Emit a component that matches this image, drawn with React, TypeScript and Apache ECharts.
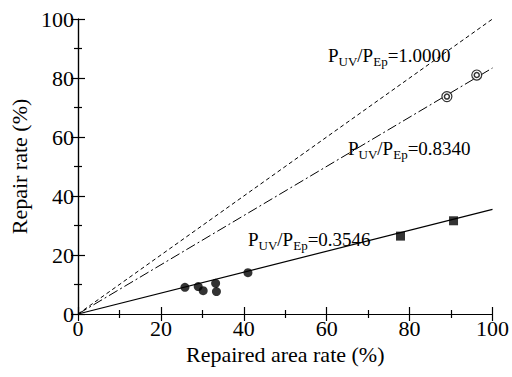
import React, { useEffect, useRef } from "react";
import * as echarts from "echarts";

const circlePoints: [number, number][] = [
  [25.8, 9.05],
  [29.0, 9.3],
  [30.2, 7.9],
  [33.2, 10.4],
  [33.4, 7.6],
  [41.0, 14.0],
];
const squarePoints: [number, number][] = [
  [77.8, 26.4],
  [90.6, 31.6],
];
const targetPoints: [number, number][] = [
  [89.0, 73.7],
  [96.2, 81.0],
];
const lineEq1: [number, number][] = [
  [0, 0],
  [100, 100],
];
const lineEq2: [number, number][] = [
  [0, 0],
  [100, 83.4],
];
const lineEq3: [number, number][] = [
  [0, 0],
  [100, 35.46],
];
const ratioLabels = ["1.0000", "0.8340", "0.3546"];
const xTitle = "Repaired area rate (%)";
const yTitle = "Repair rate (%)";

const FONT = "Times New Roman";

function frameAxis(position: string) {
  return {
    type: "value",
    min: 0,
    max: 100,
    interval: 20,
    position,
    axisLine: { show: true, lineStyle: { color: "#000", width: 1.2 } },
    axisTick: { show: true, inside: true, length: 7, lineStyle: { color: "#000", width: 1.2 } },
    minorTick: { show: true, splitNumber: 2, length: 4, lineStyle: { color: "#000", width: 1.2 } },
    splitLine: { show: false },
    axisLabel: { show: false },
  };
}

export default function App() {
  const ref = useRef<HTMLDivElement>(null);
  useEffect(() => {
    if (!ref.current) return;
    const chart = echarts.init(ref.current, null, { renderer: "svg" });
    const mkLabel = (val: string, x: number, y: number) => ({
      type: "text",
      left: x,
      top: y,
      style: {
        text: `{m|P}{s|UV}{m|/P}{s|Ep}{m|=${val}}`,
        rich: {
          m: { fontFamily: FONT, fontSize: 19, fill: "#000", verticalAlign: "bottom" },
          s: { fontFamily: FONT, fontSize: 13, fill: "#000", verticalAlign: "bottom", padding: [0, 0, -3, 0] },
        },
      },
    });
    chart.setOption({
      animation: false,
      textStyle: { fontFamily: FONT },
      grid: { left: 78, right: 19, top: 19, bottom: 63 },
      xAxis: [
        {
          type: "value",
          min: 0,
          max: 100,
          interval: 20,
          position: "bottom",
          name: xTitle,
          nameLocation: "middle",
          nameGap: 27,
          nameTextStyle: { fontFamily: FONT, fontSize: 22, color: "#000" },
          axisLine: { show: true, lineStyle: { color: "#000", width: 1.2 } },
          axisTick: { show: true, inside: true, length: 7, lineStyle: { color: "#000", width: 1.2 } },
          minorTick: { show: true, splitNumber: 2, length: 4, lineStyle: { color: "#000", width: 1.2 } },
          splitLine: { show: false },
          axisLabel: { fontFamily: FONT, fontSize: 22, color: "#000", margin: 3 },
        },
        frameAxis("top"),
      ],
      yAxis: [
        {
          type: "value",
          min: 0,
          max: 100,
          interval: 20,
          position: "left",
          name: yTitle,
          nameLocation: "middle",
          nameGap: 46,
          nameTextStyle: { fontFamily: FONT, fontSize: 22, color: "#000" },
          axisLine: { show: true, lineStyle: { color: "#000", width: 1.2 } },
          axisTick: { show: true, inside: true, length: 7, lineStyle: { color: "#000", width: 1.2 } },
          minorTick: { show: true, splitNumber: 2, length: 4, lineStyle: { color: "#000", width: 1.2 } },
          splitLine: { show: false },
          axisLabel: { fontFamily: FONT, fontSize: 22, color: "#000", margin: 4 },
        },
        frameAxis("right"),
      ],
      series: [
        {
          type: "line",
          data: lineEq1,
          symbol: "none",
          lineStyle: { color: "#000", width: 1, type: [4, 3] },
        },
        {
          type: "line",
          data: lineEq2,
          symbol: "none",
          lineStyle: { color: "#000", width: 1, type: [10, 3, 2, 3] },
        },
        {
          type: "line",
          data: lineEq3,
          symbol: "none",
          lineStyle: { color: "#000", width: 1.2, type: "solid" },
        },
        {
          type: "scatter",
          data: circlePoints,
          symbol: "circle",
          symbolSize: 9,
          itemStyle: { color: "#000" },
        },
        {
          type: "scatter",
          data: squarePoints,
          symbol: "rect",
          symbolSize: 9,
          itemStyle: { color: "#000" },
        },
        {
          type: "scatter",
          data: targetPoints,
          symbol: "circle",
          symbolSize: 10,
          itemStyle: { color: "#fff", borderColor: "#000", borderWidth: 1.2 },
          z: 3,
        },
        {
          type: "scatter",
          data: targetPoints,
          symbol: "circle",
          symbolSize: 5,
          itemStyle: { color: "#fff", borderColor: "#000", borderWidth: 1.5 },
          z: 4,
        },
      ],
      graphic: [
        mkLabel(ratioLabels[0], 328, 46),
        mkLabel(ratioLabels[1], 348, 139),
        mkLabel(ratioLabels[2], 248, 230),
      ],
    });
    return () => chart.dispose();
  }, []);
  return <div ref={ref} style={{ width: 512, height: 377, position: "absolute", left: 0, top: 0 }} />;
}
